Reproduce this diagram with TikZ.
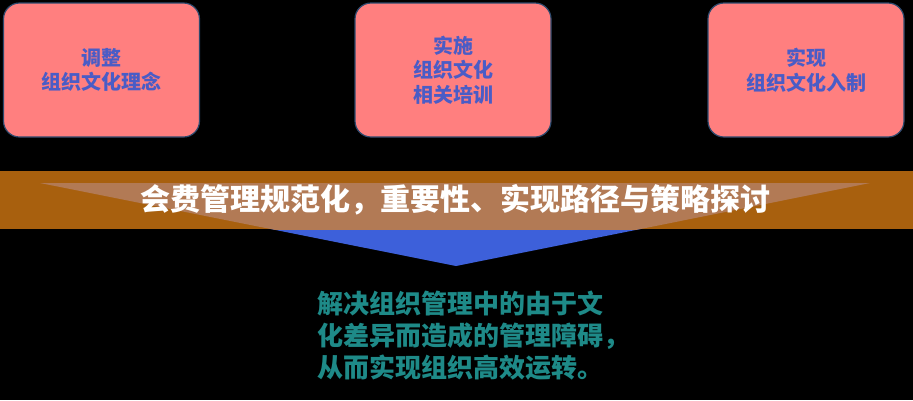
\documentclass[tikz,border=0pt]{standalone}
\usepackage{fontspec}
\newfontfamily\cjk{Noto Sans CJK SC}
\begin{document}
\begin{tikzpicture}[x=1pt,y=-1pt,
  stepbox/.style={draw=boxline, line width=1.2pt, fill=boxfill, rounded corners=16pt,
    minimum width=196pt, minimum height=134pt, inner sep=0pt, align=center,
    text=boxtext, font=\cjk\bfseries\fontsize{20}{24.5}\selectfont},
  titletext/.style={text=white, font=\cjk\bfseries\fontsize{30}{36}\selectfont, inner sep=0pt},
  bodytext/.style={text=bodycol, font=\cjk\bfseries\fontsize{26}{32}\selectfont, align=left, inner sep=0pt}
]
\definecolor{boxfill}{HTML}{FF7F7F}
\definecolor{boxline}{HTML}{2E4A6E}
\definecolor{boxtext}{HTML}{4A5CC6}
\definecolor{bandcol}{HTML}{A8600E}
\definecolor{tancol}{HTML}{B27A55}
\definecolor{bluecol}{HTML}{3D60DA}
\definecolor{bodycol}{HTML}{1E8A88}
\useasboundingbox (0,0) rectangle (913,400);
\fill[black] (0,0) rectangle (913,400);
% boxes
\node[stepbox] (b1) at (101.5,70) {调整\\组织文化理念};
\node[stepbox] (b2) at (453,70) {实施\\组织文化\\相关培训};
\node[stepbox] (b3) at (806,70) {实现\\组织文化入制};
% triangle and band
\coordinate (tl) at (40,183);
\coordinate (tr) at (870,183);
\coordinate (tp) at (456,266);
\fill[bluecol] (tl) -- (tr) -- (tp) -- cycle;
\fill[bandcol] (0,171) rectangle (913,229);
\begin{scope}
\clip (0,171) rectangle (913,229);
\fill[tancol] (tl) -- (tr) -- (tp) -- cycle;
\end{scope}
\node[titletext] (title) at (455,200) {会费管理规范化，重要性、实现路径与策略探讨};
\node[bodytext, anchor=north west] (body) at (317,291) {解决组织管理中的由于文\\化差异而造成的管理障碍，\\从而实现组织高效运转。};
\end{tikzpicture}
\end{document}
